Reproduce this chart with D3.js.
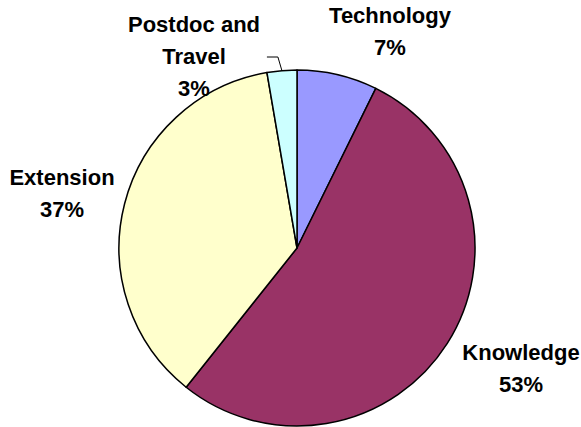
<!DOCTYPE html>
<html>
<head>
<meta charset="utf-8">
<script src="https://cdn.jsdelivr.net/npm/d3@7"></script>
<style>
  body { margin: 0; background: #fff; }
  svg { display: block; }
  .label { font-family: "Liberation Sans", Arial, sans-serif; font-weight: bold; font-size: 22px; fill: #000; }
</style>
</head>
<body>
<script>

// Data.
var categories = ['Technology', 'Knowledge', 'Extension', 'Postdoc and Travel'];
var shares = [7.3, 53.4, 36.6, 2.7];
var percentLabels = ['7%', '53%', '37%', '3%'];
var labelLines = [['Technology'], ['Knowledge'], ['Extension'], ['Postdoc and', 'Travel']];
var colors = ['#9999ff', '#993366', '#ffffcc', '#ccffff'];

// Layout.
var width = 581, height = 427;
var cx = 297, cy = 248, radius = 178;
var lineHeight = 32;

// Label anchors, relative to the pie centre (first baseline).
var labelOffsets = [[93, -225], [224, 112], [-235, -63], [-103, -216]];

var svg = d3.select('body').append('svg')
  .attr('width', width)
  .attr('height', height);

var g = svg.append('g').attr('transform', 'translate(' + cx + ',' + cy + ')');

var pie = d3.pie().sort(null).value(function(d) { return d; });
var arcs = pie(shares);

var arc = d3.arc().innerRadius(0).outerRadius(radius);
var rim = d3.arc().innerRadius(radius).outerRadius(radius);

// Slices.
g.selectAll('path.slice')
  .data(arcs)
  .enter().append('path')
  .attr('class', 'slice')
  .attr('d', arc)
  .attr('fill', function(d, i) { return colors[i]; })
  .attr('stroke', '#000')
  .attr('stroke-width', 1.5)
  .attr('stroke-linejoin', 'round');

// Labels.
arcs.forEach(function(d, i) {
  var off = labelOffsets[i];
  var text = g.append('text')
    .attr('class', 'label')
    .attr('text-anchor', 'middle')
    .attr('x', off[0])
    .attr('y', off[1]);
  var lines = labelLines[i].concat([percentLabels[i]]);
  lines.forEach(function(line, j) {
    text.append('tspan')
      .attr('x', off[0])
      .attr('dy', j === 0 ? 0 : lineHeight)
      .text(line);
  });
});

// Leader line for the small slice.
var small = arcs[3];
var p = rim.centroid(small);
var elbow = [p[0] - 4, -191];
g.append('path')
  .attr('d', d3.line()([p, elbow, [elbow[0] - 11, elbow[1]]]))
  .attr('fill', 'none')
  .attr('stroke', '#000')
  .attr('stroke-width', 1);

</script>
</body>
</html>
